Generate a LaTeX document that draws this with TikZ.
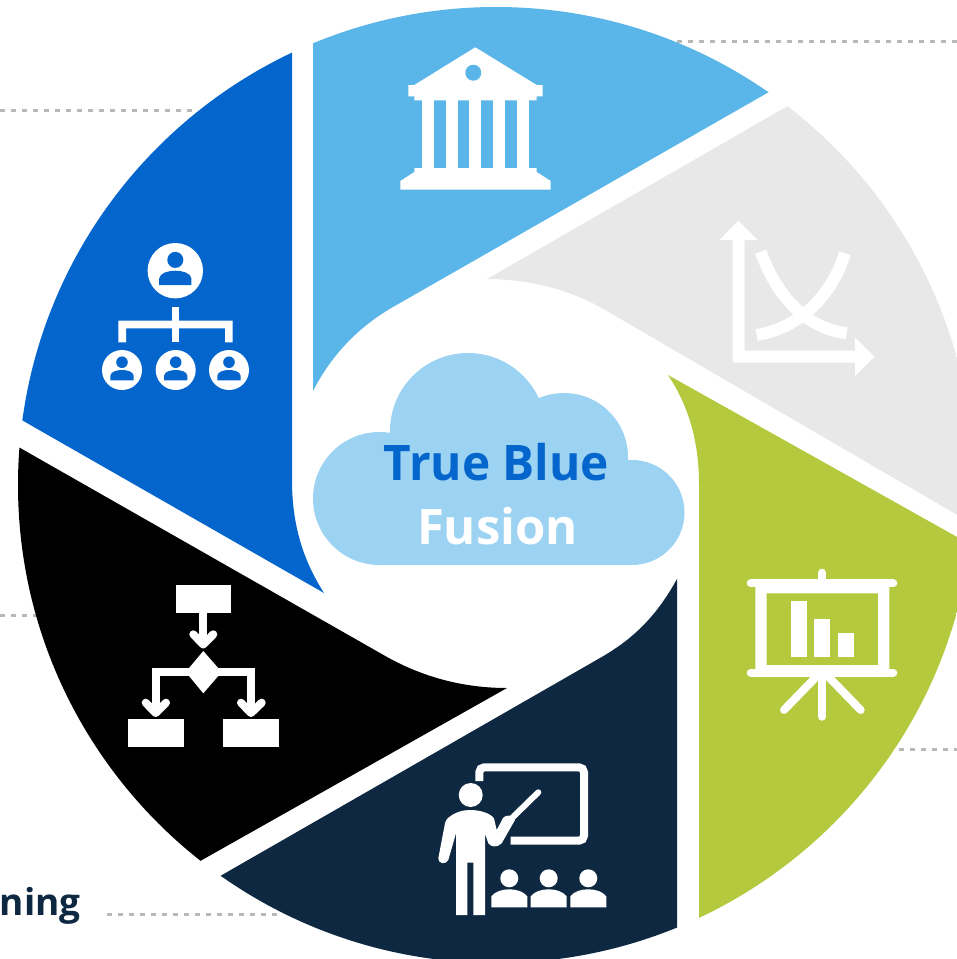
\documentclass[tikz,border=0pt]{standalone}
\usepackage{fontspec}
\setmainfont{Open Sans}
\newfontfamily\titlefont[FakeStretch=0.975]{Open Sans}
\definecolor{skyseg}{HTML}{5AB5E8}
\definecolor{greyseg}{HTML}{E8E8E8}
\definecolor{limeseg}{HTML}{B4C93D}
\definecolor{navyseg}{HTML}{0E2841}
\definecolor{blueseg}{HTML}{0466CC}
\definecolor{cloudc}{HTML}{9DD3F2}
\definecolor{dashc}{HTML}{B8B8B8}
\tikzset{
  leader/.style={draw=dashc,line width=3pt,dash pattern=on 5pt off 6pt},
  iconline/.style={draw=white,line width=8pt,line join=miter},
  roundline/.style={draw=white,line width=8pt,line cap=round,line join=round},
  pics/person/.style n args={3}{code={
    \fill[white] (0,0) circle (#1);
    \fill[#3] (0,-#2*0.39) circle (#2*0.29);
    \fill[#3] (-#2*0.58,#2*0.52) -- (-#2*0.58,#2*0.28) .. controls (-#2*0.56,#2*0.08) and (-#2*0.25,#2*0.0) .. (0,#2*0.0) .. controls (#2*0.25,#2*0.0) and (#2*0.56,#2*0.08) .. (#2*0.58,#2*0.28) -- (#2*0.58,#2*0.52) -- cycle;
  }},
  pics/student/.style={code={
    \fill[white] (0,-11) circle (9);
    \fill[white] (-18,18) -- (-18,7) .. controls (-14,2) and (-7,0) .. (0,0) .. controls (7,0) and (14,2) .. (18,7) -- (18,18) -- cycle;
  }}
}
\begin{document}
\begin{tikzpicture}[x=1pt,y=-1pt]
\useasboundingbox (0,0) rectangle (957,959);
\clip (0,0) rectangle (957,959);
% leaders
\draw[leader] (677,41) -- (957,41);
\draw[leader] (0,110) -- (195,110);
\draw[leader] (0,615) -- (45,615);
\draw[leader] (888,749) -- (957,749);
\draw[leader] (107,914.5) -- (280,914.5);
\node[anchor=base east,inner sep=0pt,font=\bfseries\fontsize{37}{37}\selectfont,text=navyseg] (ning) at (81,915) {ning};
% segments
\begin{scope}
\clip (496,485) circle (478);
\fill[skyseg] (313,391) -- (313,-20) -- (957,-15.5) -- (393,307) .. controls (355,329) and (330,358) .. (313,391) -- cycle;
\fill[greyseg] (487,279) -- (1000,-16) -- (1100,598) -- (600,307) .. controls (565,288) and (525,279) .. (487,279) -- cycle;
\fill[limeseg] (668,375) -- (1100,617) -- (1100,1000) -- (699,1000) -- (699,485) .. controls (699,440) and (688,405) .. (668,375) -- cycle;
\fill[navyseg] (677,579) -- (677,1000) -- (100,1000) -- (100,945) -- (600,658) .. controls (635,638) and (657,615) .. (677,579) -- cycle;
\fill[black] (507,688) -- (100,917.5) -- (-50,917.5) -- (-50,408) -- (387,657) .. controls (425,678) and (465,688) .. (507,688) -- cycle;
\fill[blueseg] (324,593) -- (-50,379) -- (-50,-20) -- (292,-20) -- (292,480) .. controls (292,525) and (303,560) .. (324,593) -- cycle;
\end{scope}
% cloud
\fill[cloudc] (379.5,498.5) circle (66.5);
\fill[cloudc] (468,431) circle (78);
\fill[cloudc] (564,457) circle (64);
\fill[cloudc] (632,512.5) circle (52.5);
\fill[cloudc] (379.5,460) rectangle (632,565);
\node[anchor=base,inner sep=0pt,font=\titlefont\bfseries\fontsize{49}{49}\selectfont,text=blueseg] (trueblue) at (496.5,480) {True Blue};
\node[anchor=base,inner sep=0pt,font=\bfseries\fontsize{49}{49}\selectfont,text=white] (fusion) at (497.5,544) {Fusion};
% bank icon
\fill[white] (475.3,47.3) -- (536.7,85) -- (542.7,85) -- (542.7,96.3) -- (536.7,96.3) -- (536.7,100.3) -- (414.3,100.3) -- (414.3,96.3) -- (408.3,96.3) -- (408.3,85) -- (414.3,85) -- cycle;
\foreach \cx in {422.3,445.7,469.3,493.3,517}
  \fill[white] (\cx,100) rectangle (\cx+12,169);
\fill[white] (414.3,168) -- (536.7,168) -- (536.7,172) -- (550.7,181) -- (550.7,189.7) -- (400.3,189.7) -- (400.3,181) -- (414.3,172) -- cycle;
\fill[skyseg] (473.3,72.7) circle (8);
% org icon
\pic at (175.3,270.7) {person={27.7}{27.7}{blueseg}};
\pic at (122,370) {person={20}{20}{blueseg}};
\pic at (175.7,370) {person={20}{20}{blueseg}};
\pic at (229,370) {person={20}{20}{blueseg}};
\fill[white] (171.7,306.7) rectangle (179.3,342.3);
\fill[white] (118.3,342.3) -- (118.3,320.7) -- (232.7,320.7) -- (232.7,342.3) -- (225,342.3) -- (225,328.3) -- (126,328.3) -- (126,342.3) -- cycle;
% flowchart icon
\fill[white] (175.7,585) rectangle (231,612.7);
\draw[iconline] (203.3,612) -- (203.3,644);
\draw[roundline] (193.3,634.3) -- (203.3,644.5) -- (213.3,634.3);
\fill[white] (203.3,651) -- (221.7,672) -- (203.3,693.3) -- (185.7,672) -- cycle;
\draw[iconline] (190,671.7) -- (155.7,671.7) -- (155.7,712);
\draw[iconline] (216,671.7) -- (251,671.7) -- (251,712);
\draw[roundline] (145.7,702.7) -- (155.7,713) -- (166,702.7);
\draw[roundline] (241,702.7) -- (251,713) -- (261.7,702.7);
\fill[white] (128,719) rectangle (184,747);
\fill[white] (223.3,719) rectangle (278.7,747);
% chart icon
\fill[white] (744.7,240) -- (744.7,350.7) -- (855,350.7) -- (855,337.3) -- (874.3,356.7) -- (855,376) -- (855,362.7) -- (732.7,362.7) -- (732.7,240) -- (719.3,240) -- (738.3,220.7) -- (757.7,240) -- cycle;
\draw[draw=white,line width=12pt] (760.7,251.7) .. controls (777,297) and (806,328) .. (846.7,333.3);
\draw[draw=white,line width=12pt] (845,253.3) .. controls (832,295) and (800,328) .. (756.7,335);
% presentation icon
\draw[roundline] (750.7,583.3) -- (893.3,583.3);
\draw[roundline] (822,572.7) -- (822,583);
\draw[roundline] (750.7,672.7) -- (893.3,672.7);
\fill[white,even odd rule] (755.3,583.3) rectangle (889.3,672.7) (766.7,593.3) rectangle (878,665);
\fill[white] (790.7,601.3) rectangle (806.7,656.7);
\fill[white] (814,619) rectangle (830,656.7);
\fill[white] (838,633) rectangle (854,656.7);
\draw[roundline] (822,675) -- (822,716.7);
\draw[roundline] (816,677) -- (784,710);
\draw[roundline] (828.7,677) -- (860.7,710);
% teacher icon
\draw[draw=white,line width=8pt,rounded corners=5pt] (479.3,781) -- (479.3,767.3) -- (584,767.3) -- (584,840.7) -- (510.7,840.7);
\draw[draw=white,line width=6pt,line cap=round] (538.3,792.3) -- (511.7,818.3);
\fill[white] (470.7,795) circle (12);
\fill[white] (445,823.3) .. controls (446,820) and (447,819) .. (448,818) .. controls (455,812) and (463,810) .. (470,810) .. controls (480,810) and (490,813) .. (494,818.3) -- (496.7,830) -- (503,818) .. controls (506,814) and (513,815) .. (515,820) -- (501.7,843.3) .. controls (497,848) and (491,847) .. (488.3,843.3) -- (485,833.3) -- (485,915) -- (473.3,915) -- (473.3,862.7) -- (467.3,862.7) -- (467.3,915) -- (456,915) -- (456,833.3) -- (448.3,860) .. controls (446,865) and (438,864) .. (438.3,858.3) -- cycle;
\pic at (509.3,889.3) {student};
\pic at (548.7,889.3) {student};
\pic at (588.3,889.3) {student};
\end{tikzpicture}
\end{document}
